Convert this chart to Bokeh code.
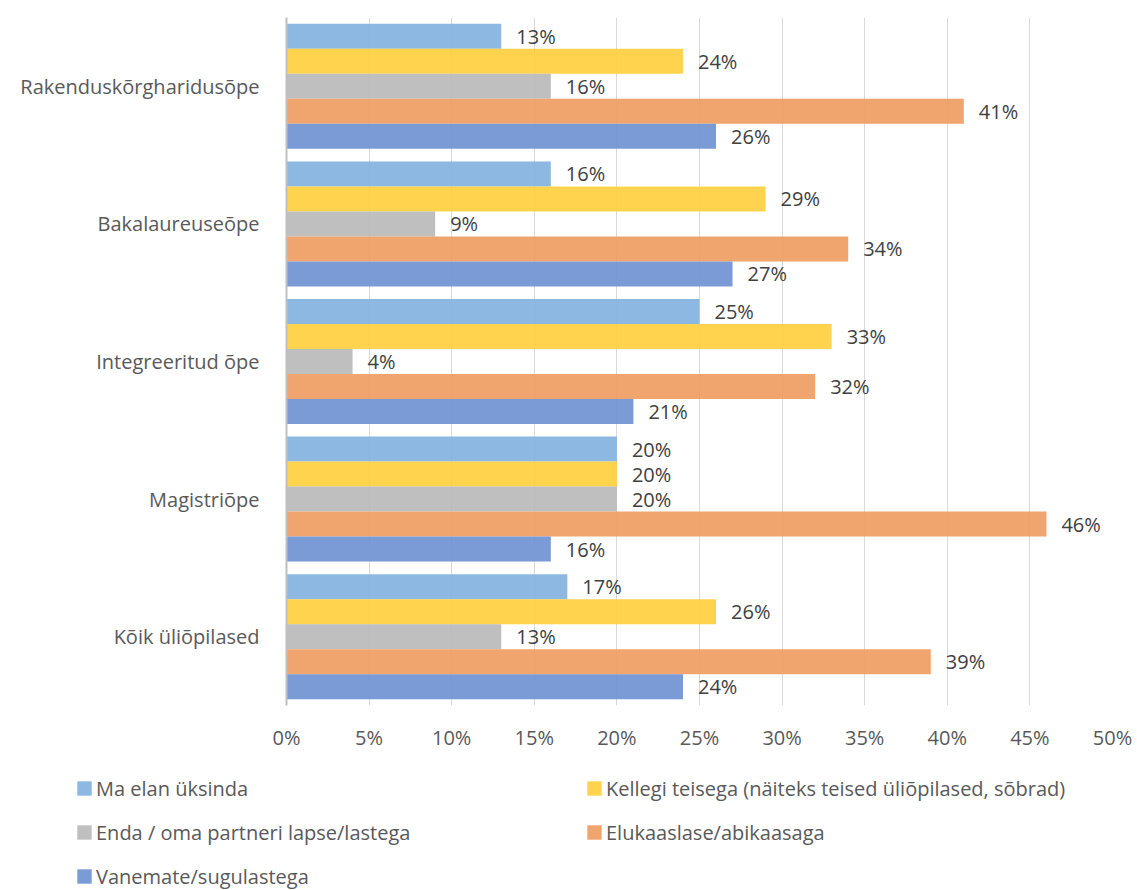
from bokeh.plotting import figure
from bokeh.layouts import column
from bokeh.models import Range1d, FixedTicker, Legend, LegendItem, ColumnDataSource
from bokeh.core.properties import value
from bokeh.embed import file_html
from bokeh.resources import INLINE

categories = ["Rakenduskõrgharidusõpe", "Bakalaureuseõpe", "Integreeritud õpe",
              "Magistriõpe", "Kõik üliõpilased"]
series_names = ["Ma elan üksinda",
                "Kellegi teisega (näiteks teised üliõpilased, sõbrad)",
                "Enda / oma partneri lapse/lastega",
                "Elukaaslase/abikaasaga",
                "Vanemate/sugulastega"]
alone = [13, 16, 25, 20, 17]
someone = [24, 29, 33, 20, 26]
children = [16, 9, 4, 20, 13]
partner = [41, 34, 32, 46, 39]
parents = [26, 27, 21, 16, 24]
series_values = [alone, someone, children, partner, parents]
colors = ["#80B0DE", "#FFCE3A", "#B8B8B8", "#EE9A5E", "#6C90D0"]
x_ticks = [0, 5, 10, 15, 20, 25, 30, 35, 40, 45, 50]
x_tick_labels = ["0%", "5%", "10%", "15%", "20%", "25%", "30%", "35%", "40%", "45%", "50%"]

FONT = "Open Sans"
FS = "20px"
n_groups = len(categories)
n_series = len(series_names)
bar_h = 0.1817

p = figure(width=1137, height=760, output_backend="svg", toolbar_location=None,
           x_range=Range1d(0, 50), y_range=Range1d(n_groups, 0),
           min_border_left=286, min_border_right=25, min_border_top=17,
           min_border_bottom=55)
p.outline_line_color = None

renderers = []
for j, (name, vals, col) in enumerate(zip(series_names, series_values, colors)):
    ys = [i + 0.5 + (j - (n_series - 1) / 2) * bar_h for i in range(n_groups)]
    src = ColumnDataSource(dict(y=ys, v=vals, lab=[f"{v}%" for v in vals]))
    r = p.hbar(y="y", left=0, right="v", height=bar_h, source=src,
               fill_color=col, fill_alpha=0.9, line_color=None)
    p.text(x="v", y="y", text="lab", source=src, x_offset=15,
           text_baseline="middle", text_align="left",
           text_font=value(FONT), text_font_size=FS, text_color="#404040")
    renderers.append(r)

# x axis
p.xaxis.ticker = FixedTicker(ticks=x_ticks)
p.xaxis.major_label_overrides = {t: l for t, l in zip(x_ticks, x_tick_labels)}
p.xaxis.axis_line_color = None
p.xaxis.major_tick_line_color = None
p.xaxis.major_tick_out = 0
p.xaxis.major_tick_in = 0
p.xaxis.minor_tick_line_color = None
p.xaxis.major_label_text_font = FONT
p.xaxis.major_label_text_font_size = FS
p.xaxis.major_label_text_color = "#595959"
p.xaxis.major_label_standoff = 18

# y axis
p.yaxis.ticker = FixedTicker(ticks=[i + 0.5 for i in range(n_groups)])
p.yaxis.major_label_overrides = {i + 0.5: c for i, c in enumerate(categories)}
p.yaxis.axis_line_color = "#BFBFBF"
p.yaxis.axis_line_width = 2
p.yaxis.major_tick_line_color = None
p.yaxis.major_tick_out = 0
p.yaxis.major_tick_in = 0
p.yaxis.minor_tick_line_color = None
p.yaxis.major_label_text_font = FONT
p.yaxis.major_label_text_font_size = FS
p.yaxis.major_label_text_color = "#595959"
p.yaxis.major_label_standoff = 27

p.xgrid.ticker = FixedTicker(ticks=x_ticks)
p.xgrid.grid_line_color = "#D9D9D9"
p.ygrid.grid_line_color = None

# legend in its own panel below the chart
lg = figure(width=1137, height=130, output_backend="svg", toolbar_location=None,
            x_range=Range1d(0, 1), y_range=Range1d(0, 1),
            min_border_left=0, min_border_right=0, min_border_top=0,
            min_border_bottom=0)
lg.frame_align = False
lg.axis.visible = False
lg.grid.visible = False
lg.outline_line_color = None

leg_renderers = []
for name, col in zip(series_names, colors):
    rr = lg.hbar(y=[0], left=[0], right=[0], height=0.0,
                 fill_color=col, fill_alpha=0.9, line_color=None)
    leg_renderers.append(rr)

order = [0, 2, 4, 1, 3]  # column-major fill -> rows read left to right
items = [LegendItem(label=series_names[k], renderers=[leg_renderers[k]]) for k in order]
legend = Legend(items=items, location=(75, 0), nrows=3,
                glyph_width=18, glyph_height=18, label_standoff=3,
                label_width=473, label_height=28, spacing=16,
                padding=0, margin=0, border_line_color=None,
                background_fill_alpha=0,
                label_text_font=FONT, label_text_font_size=FS,
                label_text_color="#595959")
lg.add_layout(legend, "center")

layout = column(p, lg, spacing=0)
open("out.html", "w").write(file_html(layout, INLINE))
